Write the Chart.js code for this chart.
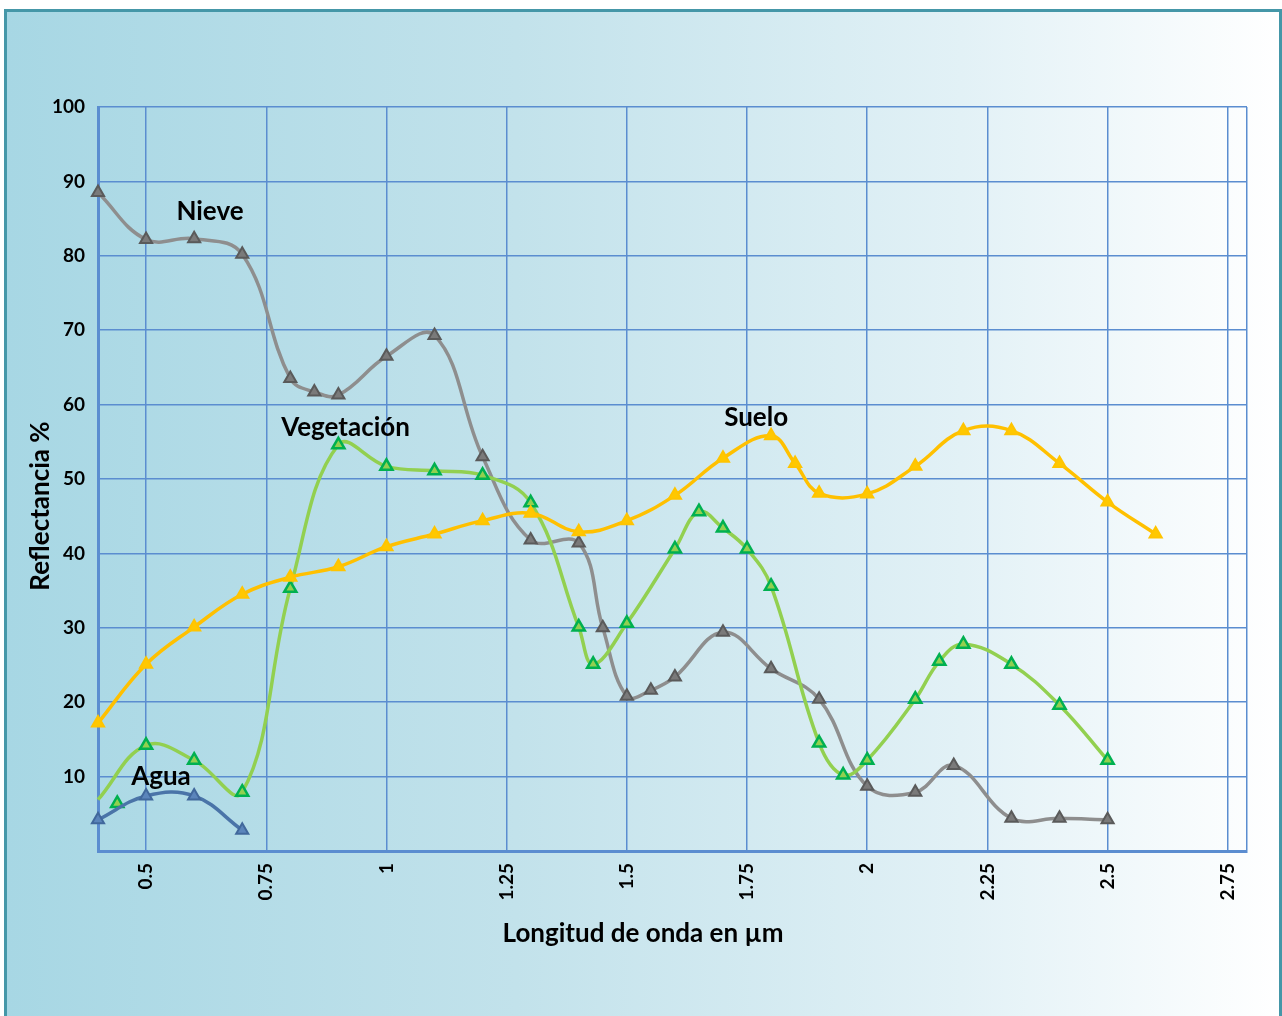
<!DOCTYPE html>
<html lang="es">
  <head>
    <meta charset="UTF-8" />
    <title>Reflectancia espectral</title>
    <script src="https://cdn.jsdelivr.net/npm/chart.js"></script>
    <style>
      html,
      body {
        margin: 0;
        padding: 0;
        background: #ffffff;
        overflow: hidden;
      }
      .frame {
        position: absolute;
        left: 4px;
        top: 9px;
        width: 1278px;
        height: 1020px;
        box-sizing: border-box;
        border: 3px solid #4597a8;
        background: linear-gradient(
          to right,
          #a7d7e4 0%,
          #c2e2eb 40%,
          #e2f1f6 75%,
          #ffffff 100%
        );
      }
      #chart {
        position: absolute;
        left: 0;
        top: 0;
      }
    </style>
  </head>
  <body>
    <div class="frame"></div>
    <canvas id="chart" width="1282" height="1016"></canvas>
    <script>
      // valores
      const nieveX = [0.4, 0.5, 0.6, 0.7, 0.8, 0.85, 0.9, 1.0, 1.1, 1.2, 1.3, 1.4, 1.45, 1.5, 1.55, 1.6, 1.7, 1.8, 1.9, 2.0, 2.1, 2.18, 2.3, 2.4, 2.5];
      const nieveY = [88.5, 82.2, 82.3, 80.2, 63.5, 61.7, 61.3, 66.5, 69.3, 53, 41.8, 41.4, 30, 20.8, 21.6, 23.4, 29.4, 24.5, 20.4, 8.7, 7.9, 11.5, 4.4, 4.4, 4.2];

      const vegX = [0.4, 0.5, 0.6, 0.7, 0.8, 0.9, 1.0, 1.1, 1.2, 1.3, 1.4, 1.43, 1.5, 1.6, 1.65, 1.7, 1.75, 1.8, 1.9, 1.95, 2.0, 2.1, 2.15, 2.2, 2.3, 2.4, 2.5];
      const vegY = [6.9, 14.2, 12.2, 7.9, 35.3, 54.6, 51.7, 51.1, 50.5, 46.8, 30.1, 25.1, 30.6, 40.6, 45.6, 43.4, 40.6, 35.6, 14.5, 10.2, 12.2, 20.4, 25.5, 27.8, 25.1, 19.6, 12.2];
      const vegDotX = [0.44];
      const vegDotY = [6.4];

      const sueloX = [0.4, 0.5, 0.6, 0.7, 0.8, 0.9, 1.0, 1.1, 1.2, 1.3, 1.4, 1.5, 1.6, 1.7, 1.8, 1.85, 1.9, 2.0, 2.1, 2.2, 2.3, 2.4, 2.5, 2.6];
      const sueloY = [17.2, 25.1, 30.1, 34.5, 36.8, 38.2, 40.9, 42.6, 44.4, 45.4, 42.9, 44.4, 47.8, 52.8, 55.8, 52.1, 48.1, 48.0, 51.7, 56.5, 56.5, 52.1, 46.9, 42.6];

      const aguaX = [0.4, 0.5, 0.6, 0.7];
      const aguaY = [4.2, 7.4, 7.4, 2.8];

      const xTicks = [0.5, 0.75, 1, 1.25, 1.5, 1.75, 2, 2.25, 2.5, 2.75];
      const yTicks = [0, 10, 20, 30, 40, 50, 60, 70, 80, 90, 100];

      const seriesNames = ["Nieve", "Vegetación", "Suelo", "Agua"];
      // donde van los nombres (en unidades del grafico)
      const labelAt = [
        [0.633, 85.9],
        [0.915, 56.9],
        [1.769, 58.3],
        [0.531, 10.0],
      ];

      const xTitle = "Longitud de onda en µm";
      const yTitle = "Reflectancia %";

      const X_MIN = 0.4;
      const X_MAX = 2.79;
      const gridBlue = "#5b8dd0";
      const tickFont = { family: "Lato", size: 19, weight: "bold" };

      const toPoints = (xs, ys) => xs.map((x, i) => ({ x: x, y: ys[i] }));

      const textPlugin = {
        id: "texts",
        afterDatasetsDraw(chart) {
          const ctx = chart.ctx;
          const x = chart.scales.x;
          const y = chart.scales.y;
          ctx.save();
          ctx.fillStyle = "#000000";
          ctx.font = "bold 26px Lato";
          ctx.textAlign = "center";
          ctx.textBaseline = "middle";
          seriesNames.forEach((name, i) => {
            ctx.fillText(
              name,
              x.getPixelForValue(labelAt[i][0]),
              y.getPixelForValue(labelAt[i][1])
            );
          });
          ctx.fillText(xTitle, 643, 934);
          ctx.translate(41, 506);
          ctx.rotate(-Math.PI / 2);
          ctx.fillText(yTitle, 0, 0);
          ctx.restore();
        },
      };

      const ctx = document.getElementById("chart").getContext("2d");
      new Chart(ctx, {
        type: "line",
        data: {
          datasets: [
            {
              label: "Agua",
              data: toPoints(aguaX, aguaY),
              borderColor: "#4a74a8",
              borderWidth: 3.5,
              pointStyle: "triangle",
              pointRadius: 7,
              pointBackgroundColor: "#5b85bb",
              pointBorderColor: "#41689c",
              pointBorderWidth: 2,
              tension: 0.4,
              clip: false,
            },
            {
              label: "Suelo",
              data: toPoints(sueloX, sueloY),
              borderColor: "#ffc000",
              borderWidth: 3.5,
              pointStyle: "triangle",
              pointRadius: 7,
              pointBackgroundColor: "#ffc800",
              pointBorderColor: "#ffc400",
              pointBorderWidth: 2,
              tension: 0.4,
              clip: false,
            },
            {
              label: "Vegetación",
              data: toPoints(vegX, vegY),
              borderColor: "#92d050",
              borderWidth: 3.5,
              pointStyle: "triangle",
              pointRadius: (c) => (c.dataIndex === 0 ? 0 : 7),
              pointBackgroundColor: "#92d050",
              pointBorderColor: "#00b050",
              pointBorderWidth: 2.5,
              tension: 0.4,
              clip: false,
            },
            {
              label: "Vegetación puntos",
              data: toPoints(vegDotX, vegDotY),
              showLine: false,
              pointStyle: "triangle",
              pointRadius: 7,
              pointBackgroundColor: "#92d050",
              pointBorderColor: "#00b050",
              pointBorderWidth: 2.5,
              clip: false,
            },
            {
              label: "Nieve",
              data: toPoints(nieveX, nieveY),
              borderColor: "#8e8e8e",
              borderWidth: 3.5,
              pointStyle: "triangle",
              pointRadius: 7,
              pointBackgroundColor: "#7a7a7a",
              pointBorderColor: "#5a5a5a",
              pointBorderWidth: 2,
              tension: 0.4,
              clip: false,
            },
          ],
        },
        options: {
          responsive: false,
          animation: false,
          layout: { padding: { top: 107, right: 35, left: 0, bottom: 0 } },
          plugins: {
            legend: { display: false },
            tooltip: { enabled: false },
          },
          scales: {
            x: {
              type: "linear",
              min: X_MIN,
              max: X_MAX,
              afterBuildTicks: (s) => {
                s.ticks = xTicks.concat([X_MAX]).map((v) => ({ value: v }));
              },
              afterFit: (s) => {
                s.height = 165;
              },
              ticks: {
                autoSkip: false,
                minRotation: 90,
                maxRotation: 90,
                padding: 12,
                color: "#000000",
                font: tickFont,
                callback: (v) => (xTicks.includes(v) ? String(v) : ""),
              },
              grid: { color: gridBlue, lineWidth: 1.5, drawTicks: false },
              border: { color: gridBlue, width: 3 },
            },
            y: {
              min: 0,
              max: 100,
              afterBuildTicks: (s) => {
                s.ticks = yTicks.map((v) => ({ value: v }));
              },
              afterFit: (s) => {
                s.width = 98;
              },
              ticks: {
                padding: 13,
                color: "#000000",
                font: tickFont,
                callback: (v) => (v === 0 ? "" : String(v)),
              },
              grid: { color: gridBlue, lineWidth: 1.5, drawTicks: false },
              border: { color: gridBlue, width: 3 },
            },
          },
        },
        plugins: [textPlugin],
      });
    </script>
  </body>
</html>
